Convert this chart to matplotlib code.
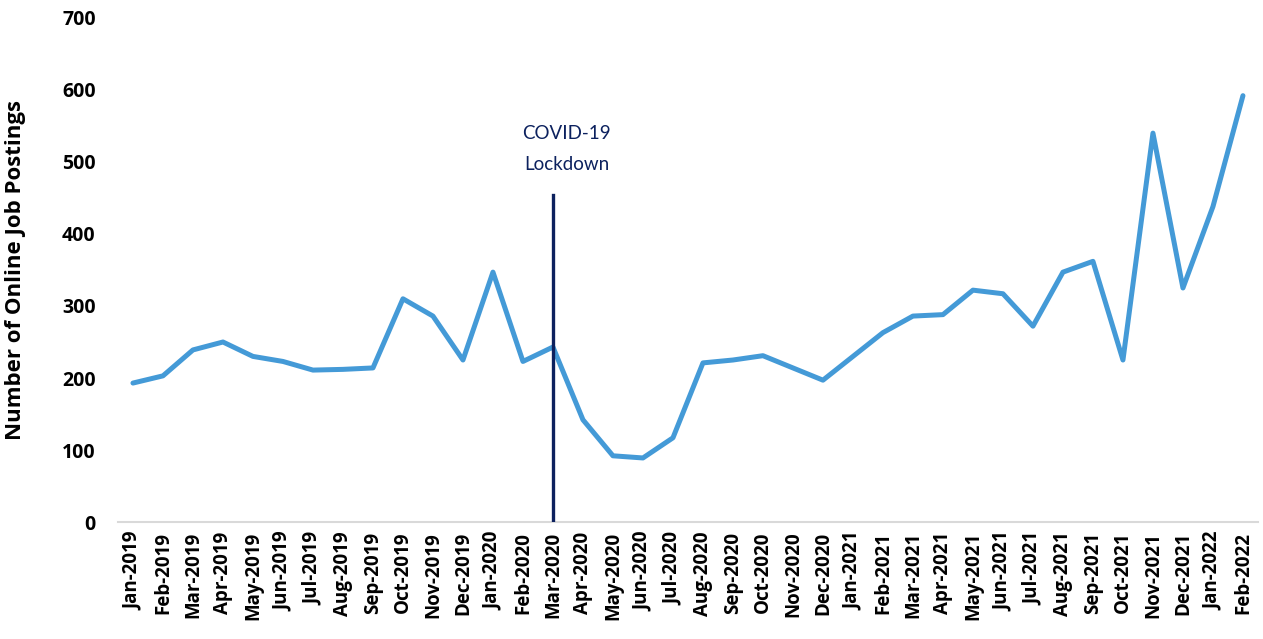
import matplotlib
matplotlib.use("Agg")
import matplotlib.pyplot as plt
import numpy as np

plt.rcParams["font.family"] = ["Open Sans", "DejaVu Sans"]

months = [
    "Jan-2019", "Feb-2019", "Mar-2019", "Apr-2019", "May-2019", "Jun-2019",
    "Jul-2019", "Aug-2019", "Sep-2019", "Oct-2019", "Nov-2019", "Dec-2019",
    "Jan-2020", "Feb-2020", "Mar-2020", "Apr-2020", "May-2020", "Jun-2020",
    "Jul-2020", "Aug-2020", "Sep-2020", "Oct-2020", "Nov-2020", "Dec-2020",
    "Jan-2021", "Feb-2021", "Mar-2021", "Apr-2021", "May-2021", "Jun-2021",
    "Jul-2021", "Aug-2021", "Sep-2021", "Oct-2021", "Nov-2021", "Dec-2021",
    "Jan-2022", "Feb-2022",
]
postings = [
    193, 203, 239, 250, 230, 223,
    211, 212, 214, 310, 286, 225,
    347, 223, 243, 142, 92, 89,
    117, 221, 225, 231, 214, 197,
    230, 263, 286, 288, 322, 317,
    272, 347, 362, 225, 540, 325,
    438, 592,
]
lockdown_month = "Mar-2020"
lockdown_top = 454
yticks = [0, 100, 200, 300, 400, 500, 600, 700]

fig = plt.figure(figsize=(12.63, 6.39), dpi=100)
ax = fig.add_axes([0.0934, 0.183, 0.9026, 0.789])

x = np.arange(len(months))
ax.plot(x, postings, color="#449AD7", linewidth=3.6, solid_joinstyle="round",
        solid_capstyle="round", zorder=3)

# lockdown marker
xl = months.index(lockdown_month)
ax.plot([xl, xl], [0, lockdown_top], color="#0C215E", linewidth=2.4, zorder=4)
ax.text(xl + 0.45, lockdown_top + 31, "COVID-19\nLockdown", ha="center",
        va="bottom", color="#0C215E", fontsize=13.5, linespacing=1.95,
        family=["Lato", "DejaVu Sans"])

ax.set_xlim(-0.5, len(months) - 0.5)
ax.set_ylim(0, 700)
ax.set_yticks(yticks)
ax.set_yticklabels([str(v) for v in yticks], fontsize=14, fontweight="bold")
ax.set_xticks(x)
ax.set_xticklabels(months, rotation=90, fontsize=13.5, fontweight="bold")
ax.tick_params(axis="both", length=0)
ax.tick_params(axis="y", pad=16)
ax.tick_params(axis="x", pad=7)
ax.set_ylabel("Number of Online Job Postings", fontsize=16,
              fontweight="bold", labelpad=26)

for side in ["top", "right", "left"]:
    ax.spines[side].set_visible(False)
ax.spines["bottom"].set_color("#D9D9D9")
ax.spines["bottom"].set_linewidth(1.5)

fig.savefig("out.png", dpi=100)
